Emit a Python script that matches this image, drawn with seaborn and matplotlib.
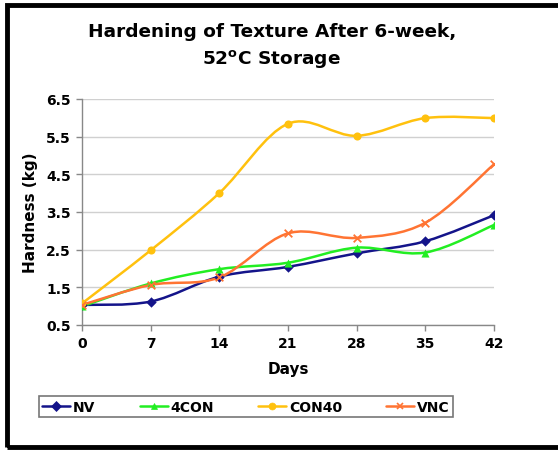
import numpy as np
import pandas as pd
import matplotlib
matplotlib.use("Agg")
import matplotlib.pyplot as plt
from matplotlib.path import Path
from matplotlib.patches import PathPatch, Rectangle
from matplotlib.lines import Line2D
import seaborn as sns

days = [0, 7, 14, 21, 28, 35, 42]
nv = [1.03, 1.12, 1.78, 2.04, 2.40, 2.72, 3.41]
con4 = [0.99, 1.60, 1.98, 2.15, 2.55, 2.42, 3.15]
con40 = [1.07, 2.48, 4.00, 5.84, 5.52, 5.99, 5.99]
vnc = [1.03, 1.56, 1.76, 2.93, 2.81, 3.21, 4.76]
series_names = ["NV", "4CON", "CON40", "VNC"]
y_ticks = [0.5, 1.5, 2.5, 3.5, 4.5, 5.5, 6.5]

colors = {"NV": "#14148a", "4CON": "#22ee22", "CON40": "#ffc10e", "VNC": "#ff7433"}
markers = {"NV": "D", "4CON": "^", "CON40": "o", "VNC": "x"}
msizes = {"NV": 28, "4CON": 34, "CON40": 34, "VNC": 30}

data = {"NV": nv, "4CON": con4, "CON40": con40, "VNC": vnc}
df = pd.DataFrame([(d, v, s) for s in series_names for d, v in zip(days, data[s])],
                  columns=["Days", "Hardness", "Series"])

sns.set_style("white")
plt.rcParams["font.family"] = ["DejaVu Sans"]
plt.rcParams["text.color"] = "black"
plt.rcParams["axes.labelcolor"] = "black"
plt.rcParams["xtick.color"] = "black"
plt.rcParams["ytick.color"] = "black"

fig = plt.figure(figsize=(5.58, 4.52), dpi=100)
ax = fig.add_axes([0.147, 0.279, 0.738, 0.500])

def smooth_path(xs, ys):
    pts = np.column_stack([xs, ys]).astype(float)
    n = len(pts)
    verts = [pts[0]]
    codes = [Path.MOVETO]
    for i in range(n - 1):
        p0 = pts[i - 1] if i > 0 else pts[i]
        p1 = pts[i]
        p2 = pts[i + 1]
        p3 = pts[i + 2] if i + 2 < n else pts[i + 1]
        c1 = p1 + (p2 - p0) / 6.0
        c2 = p2 - (p3 - p1) / 6.0
        verts += [c1, c2, p2]
        codes += [Path.CURVE4] * 3
    return Path(verts, codes)

for s in series_names:
    sub = df[df.Series == s]
    patch = PathPatch(smooth_path(sub.Days.values, sub.Hardness.values),
                      facecolor="none", edgecolor=colors[s], lw=1.8, zorder=3)
    ax.add_patch(patch)

for s in series_names:
    sub = df[df.Series == s]
    sns.scatterplot(data=sub, x="Days", y="Hardness", ax=ax, color=colors[s],
                    marker=markers[s], s=msizes[s], linewidth=1.3 if s == "VNC" else 0,
                    edgecolor=colors[s] if s != "VNC" else None, zorder=4, legend=False)

ax.set_xlim(0, 42)
ax.set_ylim(0.5, 6.5)
ax.set_xticks(days)
ax.set_yticks(y_ticks)
ax.set_xticklabels([str(d) for d in days], fontweight="bold", fontsize=10)
ax.set_yticklabels([f"{t:.1f}" for t in y_ticks], fontweight="bold", fontsize=10)
ax.grid(axis="y", color="#d0d0d0", lw=1)
ax.grid(axis="x", visible=False)
for sp in ["top", "right"]:
    ax.spines[sp].set_visible(False)
for sp in ["left", "bottom"]:
    ax.spines[sp].set_color("#888888")
    ax.spines[sp].set_linewidth(1)
ax.tick_params(axis="both", which="both", length=4, width=1, color="#888888",
               labelcolor="black", direction="out", pad=4, left=True, bottom=True)
ax.set_xlabel("Days", fontweight="bold", fontsize=11, labelpad=8, color="black")
ax.set_ylabel("Hardness (kg)", fontweight="bold", fontsize=11, labelpad=6, color="black")
ax.set_axisbelow(True)

fig.text(0.487, 0.930, "Hardening of Texture After 6-week,", ha="center", va="center",
         fontsize=13.3, fontweight="bold", color="black")
fig.text(0.487, 0.870, "52$^{\\mathbf{o}}$C Storage", ha="center", va="center",
         fontsize=13.3, fontweight="bold", color="black")

handles = [Line2D([0], [0], color=colors[s], lw=1.8, marker=markers[s], markersize=5,
                  markeredgewidth=1.2 if s == "VNC" else 0.5, markeredgecolor=colors[s])
           for s in series_names]
leg = fig.legend(handles, series_names, loc="center", bbox_to_anchor=(0.441, 0.098),
                 ncol=4, frameon=True, fancybox=False, edgecolor="#555555",
                 prop={"weight": "bold", "size": 10}, handlelength=2.0,
                 columnspacing=3.2, handletextpad=0.2, borderpad=0.25)
leg.get_frame().set_linewidth(1.2)
for t in leg.get_texts():
    t.set_color("black")

# outer frame
fig.patches.append(Rectangle((0.0125, 0.009), 1.2, 0.978, transform=fig.transFigure,
                             fill=False, edgecolor="black", lw=3.5, zorder=10))

fig.savefig("out.png", dpi=100)
